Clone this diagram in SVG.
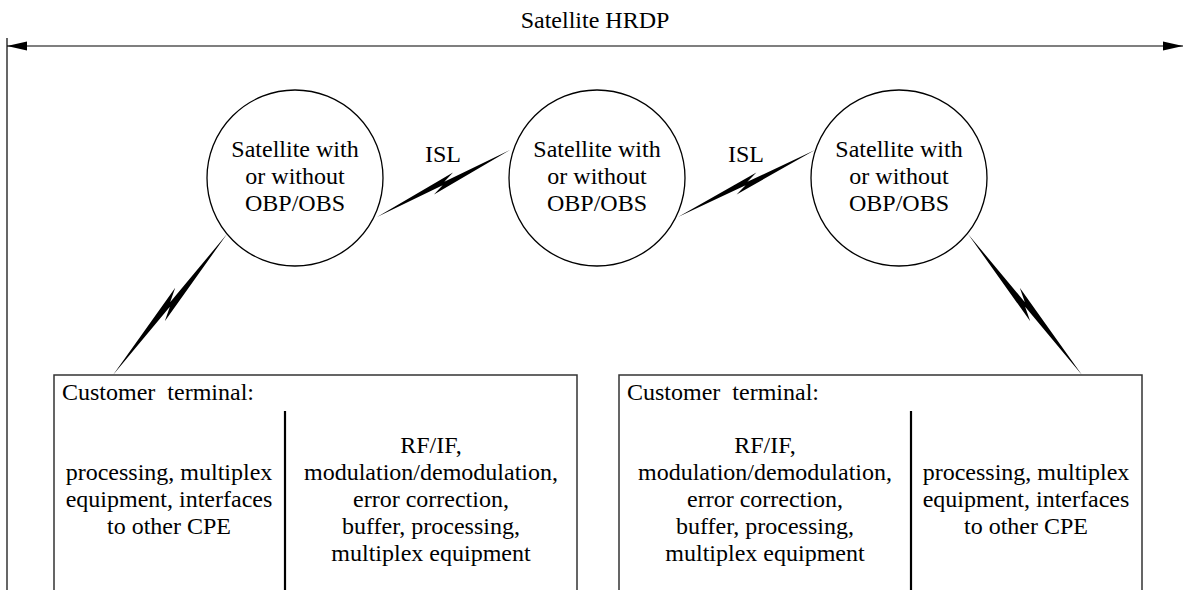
<svg xmlns="http://www.w3.org/2000/svg" xmlns:xlink="http://www.w3.org/1999/xlink" width="1183" height="590" viewBox="0 0 1183 590">
  <style>
    text { font-family: "Liberation Serif", "Times New Roman", serif; font-size: 24px; fill: #000; }
    .c { text-anchor: middle; }
    .sat { fill: #fff; stroke: #000; stroke-width: 1.3; }
    .box { fill: none; stroke: #333; stroke-width: 1.5; }
    .div { stroke: #000; stroke-width: 2.2; }
    .thin { stroke: #000; stroke-width: 1.2; fill: none; }
    .bolt { fill: #000; stroke: none; }
  </style>
  <defs>
    <marker id="arrow" viewBox="0 0 20 10" refX="20" refY="5" markerWidth="20" markerHeight="10" markerUnits="userSpaceOnUse" orient="auto-start-reverse">
      <path d="M0,0.5 L20,5 L0,9.5 Z" fill="#000"/>
    </marker>
    <!-- radio-link symbol: unit length along x, widths in px along y -->
    <path id="bolt" d="M0,0 L0.59,-6.5 L0.51,-1.3 L1,0 L0.41,6.5 L0.49,1.3 Z"/>
  </defs>

  <rect width="1183" height="590" fill="#fff"/>

  <!-- span of the satellite HRDP -->
  <g id="hrdp-span">
    <line class="thin" x1="7" y1="38" x2="7" y2="590"/>
    <line class="thin" x1="7" y1="46" x2="1183" y2="46" marker-start="url(#arrow)" marker-end="url(#arrow)"/>
    <text class="c" x="595" y="28">Satellite HRDP</text>
  </g>

  <!-- radio links: two up/down links and two inter-satellite links -->
  <g id="connectors">
    <use class="bolt" xlink:href="#bolt" transform="translate(227,234) rotate(128.96) scale(181.3,1)"/>
    <use class="bolt" xlink:href="#bolt" transform="translate(377,217) rotate(-26.74) scale(148.9,0.85)"/>
    <use class="bolt" xlink:href="#bolt" transform="translate(678,217) rotate(-26.06) scale(152.5,0.85)"/>
    <use class="bolt" xlink:href="#bolt" transform="translate(968,234) rotate(51.04) scale(181.3,-1)"/>
    <text class="c" x="443" y="162">ISL</text>
    <text class="c" x="746" y="162">ISL</text>
  </g>

  <g id="sat1">
    <circle class="sat" cx="295" cy="178" r="88"/>
    <text class="c" x="295" y="157">Satellite with</text>
    <text class="c" x="295" y="184">or without</text>
    <text class="c" x="295" y="211">OBP/OBS</text>
  </g>
  <g id="sat2">
    <circle class="sat" cx="597" cy="178" r="88"/>
    <text class="c" x="597" y="157">Satellite with</text>
    <text class="c" x="597" y="184">or without</text>
    <text class="c" x="597" y="211">OBP/OBS</text>
  </g>
  <g id="sat3">
    <circle class="sat" cx="899" cy="178" r="88"/>
    <text class="c" x="899" y="157">Satellite with</text>
    <text class="c" x="899" y="184">or without</text>
    <text class="c" x="899" y="211">OBP/OBS</text>
  </g>

  <g id="terminal-left">
    <path class="box" d="M54,590 V375 H577 V590"/>
    <line class="div" x1="285" y1="411" x2="285" y2="590"/>
    <text x="62" y="400" xml:space="preserve">Customer  terminal:</text>
    <text class="c" x="169" y="480">processing, multiplex</text>
    <text class="c" x="169" y="507">equipment, interfaces</text>
    <text class="c" x="169" y="534">to other CPE</text>
    <text class="c" x="431" y="453">RF/IF,</text>
    <text class="c" x="431" y="480">modulation/demodulation,</text>
    <text class="c" x="431" y="507">error correction,</text>
    <text class="c" x="431" y="534">buffer, processing,</text>
    <text class="c" x="431" y="561">multiplex equipment</text>
  </g>

  <g id="terminal-right">
    <path class="box" d="M619,590 V375 H1142 V590"/>
    <line class="div" x1="911" y1="411" x2="911" y2="590"/>
    <text x="627" y="400" xml:space="preserve">Customer  terminal:</text>
    <text class="c" x="765" y="453">RF/IF,</text>
    <text class="c" x="765" y="480">modulation/demodulation,</text>
    <text class="c" x="765" y="507">error correction,</text>
    <text class="c" x="765" y="534">buffer, processing,</text>
    <text class="c" x="765" y="561">multiplex equipment</text>
    <text class="c" x="1026" y="480">processing, multiplex</text>
    <text class="c" x="1026" y="507">equipment, interfaces</text>
    <text class="c" x="1026" y="534">to other CPE</text>
  </g>
</svg>
